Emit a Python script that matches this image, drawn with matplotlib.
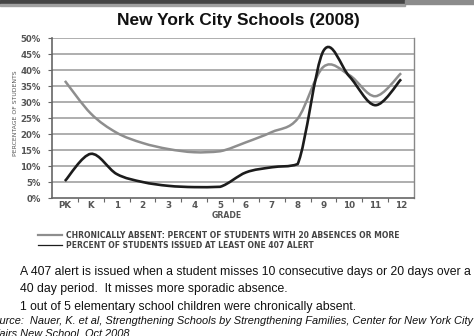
import matplotlib.pyplot as plt
import numpy as np
from matplotlib.path import Path
from matplotlib.patches import PathPatch, Rectangle

# data
grades = ['PK', 'K', '1', '2', '3', '4', '5', '6', '7', '8', '9', '10', '11', '12']
chronic = [36.6, 26.4, 20.4, 17.2, 15.3, 14.3, 14.6, 17.4, 20.6, 24.8, 41.0, 38.4, 31.8, 39.0]
alert407 = [5.3, 13.8, 7.5, 5.0, 3.8, 3.4, 3.5, 8.0, 9.6, 10.6, 46.0, 38.0, 29.0, 37.1]

label_chronic = 'CHRONICALLY ABSENT: PERCENT OF STUDENTS WITH 20 ABSENCES OR MORE'
label_alert = 'PERCENT OF STUDENTS ISSUED AT LEAST ONE 407 ALERT'

W, H = 474, 336


def smooth_path(xs, ys):
    # Catmull-Rom through the points as bezier segments,
    # controls clamped where the series is monotone (no fake dips)
    pts = np.column_stack([xs, ys]).astype(float)
    ext = np.vstack([pts[0], pts, pts[-1]])
    verts = [pts[0]]
    codes = [Path.MOVETO]
    for i in range(1, len(ext) - 2):
        p0, p1, p2, p3 = ext[i - 1], ext[i], ext[i + 1], ext[i + 2]
        c1 = p1 + (p2 - p0) / 6
        c2 = p2 - (p3 - p1) / 6
        lo, hi = min(p1[1], p2[1]), max(p1[1], p2[1])
        # clamp only at points that are not local extremes
        if (p0[1] - p1[1]) * (p2[1] - p1[1]) < 0:
            c1[1] = np.clip(c1[1], lo, hi)
        if (p1[1] - p2[1]) * (p3[1] - p2[1]) < 0:
            c2[1] = np.clip(c2[1], lo, hi)
        verts += [c1, c2, p2]
        codes += [Path.CURVE4] * 3
    return Path(verts, codes)


fig = plt.figure(figsize=(W / 100, H / 100), dpi=100)
fig.patch.set_facecolor('white')

# top banner
fig.patches.append(Rectangle((0, 1 - 4 / H), 405 / W, 4 / H, transform=fig.transFigure,
                             color='#444444', zorder=0))
fig.patches.append(Rectangle((0, 1 - 6 / H), 405 / W, 2 / H, transform=fig.transFigure,
                             color='#a0a0a0', zorder=0))
fig.patches.append(Rectangle((405 / W, 1 - 4 / H), 69 / W, 4 / H, transform=fig.transFigure,
                             color='#8c8c8c', zorder=0))

fig.text(238 / W, 1 - 21 / H, 'New York City Schools (2008)', ha='center', va='center',
         fontsize=12.5, fontweight='bold', family='Liberation Sans', color='#111111')

ax = fig.add_axes([52 / W, 1 - 198 / H, 362 / W, 160 / H])
x = np.arange(len(grades))
ax.set_xlim(-0.5, len(grades) - 0.5)
ax.set_ylim(0, 50)

for v in range(5, 55, 5):
    ax.axhline(v, color='#a8a8a8', lw=1.3, zorder=1)

ax.add_patch(PathPatch(smooth_path(x, chronic), fill=False, edgecolor='#8e8e8e', lw=1.8, zorder=3))
ax.add_patch(PathPatch(smooth_path(x, alert407), fill=False, edgecolor='#1c1c1c', lw=1.9, zorder=4))

ax.set_yticks(range(0, 55, 5))
ax.set_yticklabels([f'{v}%' for v in range(0, 55, 5)], fontsize=6.2, fontweight='bold',
                   color='#555555', family='DejaVu Sans')
ax.set_xticks(x)
ax.set_xticklabels(grades, fontsize=6.3, fontweight='bold', color='#555555', family='DejaVu Sans')
ax.set_xticks(np.arange(0.5, len(grades) - 1, 1), minor=True)
ax.tick_params(axis='x', which='major', length=0, pad=2)
ax.tick_params(axis='x', which='minor', length=3, width=0.8, color='#666666', direction='out')
ax.tick_params(axis='y', length=3, width=0.8, color='#666666', pad=5)

for side in ['left', 'bottom']:
    ax.spines[side].set_color('#666666')
    ax.spines[side].set_linewidth(1.2)
ax.spines['top'].set_visible(False)
ax.spines['right'].set_color('#888888')
ax.spines['right'].set_linewidth(1.0)

ax.set_ylabel('PERCENTAGE OF STUDENTS', fontsize=4.4, color='#555555', family='Liberation Sans Narrow')
ax.yaxis.set_label_coords(-0.095, 0.53)
fig.text(227 / W, 1 - 216 / H, 'GRADE', ha='center', va='center', fontsize=5.6,
         fontweight='bold', color='#555555', family='DejaVu Sans')

# legend drawn under the axes
for yy, col, lw, lab in [(235, '#8e8e8e', 1.6, label_chronic), (245, '#1c1c1c', 0.9, label_alert)]:
    fig.lines.append(plt.Line2D([38 / W, 62 / W], [1 - yy / H, 1 - yy / H], transform=fig.transFigure,
                                color=col, lw=lw))
    fig.text(66 / W, 1 - yy / H, lab, ha='left', va='center', fontsize=5.5, fontweight='bold',
             color='#444444', family='DejaVu Sans')

body = dict(ha='left', va='center', fontsize=8.85, family='Liberation Sans', color='#111111')
fig.text(20 / W, 1 - 272 / H, 'A 407 alert is issued when a student misses 10 consecutive days or 20 days over a', **body)
fig.text(20 / W, 1 - 289 / H, '40 day period.  It misses more sporadic absence.', **body)
fig.text(20 / W, 1 - 307 / H, '1 out of 5 elementary school children were chronically absent.', **body)

# source line: its start is cut off by the left edge, as in the original
src = dict(ha='left', va='center', fontsize=7.9, family='Liberation Sans', style='italic', color='#111111')
probe = fig.text(0, 0, 'So', **src)
fig.canvas.draw()
shift = probe.get_window_extent().width
probe.remove()
fig.text(-shift / W, 1 - 321 / H, 'Source:  Nauer, K. et al, Strengthening Schools by Strengthening Families, Center for New York City', **src)
fig.text(-shift / W, 1 - 334 / H, 'Affairs New School, Oct 2008', **src)

fig.savefig('out.png', dpi=100)
